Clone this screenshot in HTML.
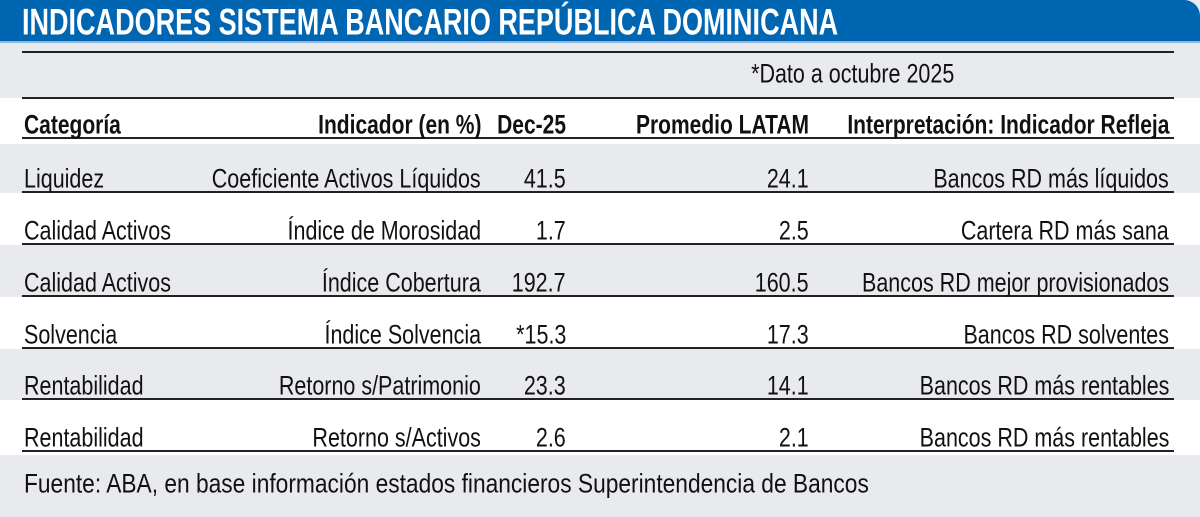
<!DOCTYPE html>
<html><head><meta charset="utf-8"><style>
body{margin:0;width:1200px;height:517px;overflow:hidden;background:#e9eaee;position:relative;font-family:"Liberation Sans Narrow","Liberation Sans",sans-serif;color:#111;}
.hdr{position:absolute;left:0;top:0;width:1200px;height:41px;background:#0066b2;border-top-right-radius:16px;border-bottom:2px solid #8fb7e0;}
.title{position:absolute;left:22px;top:2px;font:bold 35px "Liberation Sans",sans-serif;color:#fff;white-space:nowrap;transform:scale(0.772,1.05);transform-origin:left top;}
.band{position:absolute;left:0;width:1200px;background:#fff;}
.line{position:absolute;left:22px;width:1152px;height:2px;background:#222;}
.t{position:absolute;font-size:25px;white-space:nowrap;line-height:1;transform:scale(0.86,1.06);transform-origin:left;}
.r{text-align:right;transform-origin:right;}
.b{font-weight:bold;transform:scale(0.84,1.06);}
</style></head><body>
<div class="hdr"></div>
<div class="title">INDICADORES SISTEMA BANCARIO REPÚBLICA DOMINICANA</div>
<div class="line" style="top:51px"></div>
<div class="band" style="top:98px;height:46px"></div>
<div class="line" style="top:97px"></div>
<div class="t r" style="right:246px;top:62px">*Dato a octubre 2025</div>

<div class="band" style="top:193px;height:52px"></div>
<div class="band" style="top:297px;height:52px"></div>
<div class="band" style="top:400px;height:55px"></div>

<div class="line" style="top:137px"></div>
<div class="line" style="top:191px"></div>
<div class="line" style="top:243px"></div>
<div class="line" style="top:295px"></div>
<div class="line" style="top:347px"></div>
<div class="line" style="top:398px"></div>
<div class="line" style="top:450px"></div>

<div class="t b" style="left:24px;top:113px">Categoría</div>
<div class="t b r" style="right:719px;top:113px">Indicador (en %)</div>
<div class="t b r" style="right:634px;top:113px">Dec-25</div>
<div class="t b r" style="right:391px;top:113px">Promedio LATAM</div>
<div class="t b r" style="right:31px;top:113px">Interpretación: Indicador Refleja</div>

<div class="t" style="left:24px;top:167px">Liquidez</div>
<div class="t r" style="right:719px;top:167px">Coeficiente Activos Líquidos</div>
<div class="t r" style="right:634px;top:167px">41.5</div>
<div class="t r" style="right:391px;top:167px">24.1</div>
<div class="t r" style="right:31px;top:167px">Bancos RD más líquidos</div>

<div class="t" style="left:24px;top:219px">Calidad Activos</div>
<div class="t r" style="right:719px;top:219px">Índice de Morosidad</div>
<div class="t r" style="right:634px;top:219px">1.7</div>
<div class="t r" style="right:391px;top:219px">2.5</div>
<div class="t r" style="right:31px;top:219px">Cartera RD más sana</div>

<div class="t" style="left:24px;top:271px">Calidad Activos</div>
<div class="t r" style="right:719px;top:271px">Índice Cobertura</div>
<div class="t r" style="right:634px;top:271px">192.7</div>
<div class="t r" style="right:391px;top:271px">160.5</div>
<div class="t r" style="right:31px;top:271px">Bancos RD mejor provisionados</div>

<div class="t" style="left:24px;top:323px">Solvencia</div>
<div class="t r" style="right:719px;top:323px">Índice Solvencia</div>
<div class="t r" style="right:634px;top:323px">*15.3</div>
<div class="t r" style="right:391px;top:323px">17.3</div>
<div class="t r" style="right:31px;top:323px">Bancos RD solventes</div>

<div class="t" style="left:24px;top:374px">Rentabilidad</div>
<div class="t r" style="right:719px;top:374px">Retorno s/Patrimonio</div>
<div class="t r" style="right:634px;top:374px">23.3</div>
<div class="t r" style="right:391px;top:374px">14.1</div>
<div class="t r" style="right:31px;top:374px">Bancos RD más rentables</div>

<div class="t" style="left:24px;top:426px">Rentabilidad</div>
<div class="t r" style="right:719px;top:426px">Retorno s/Activos</div>
<div class="t r" style="right:634px;top:426px">2.6</div>
<div class="t r" style="right:391px;top:426px">2.1</div>
<div class="t r" style="right:31px;top:426px">Bancos RD más rentables</div>

<div class="t" style="left:24px;top:472px;transform:scale(0.91,1.06)">Fuente: ABA, en base información estados financieros Superintendencia de Bancos</div>
</body></html>
